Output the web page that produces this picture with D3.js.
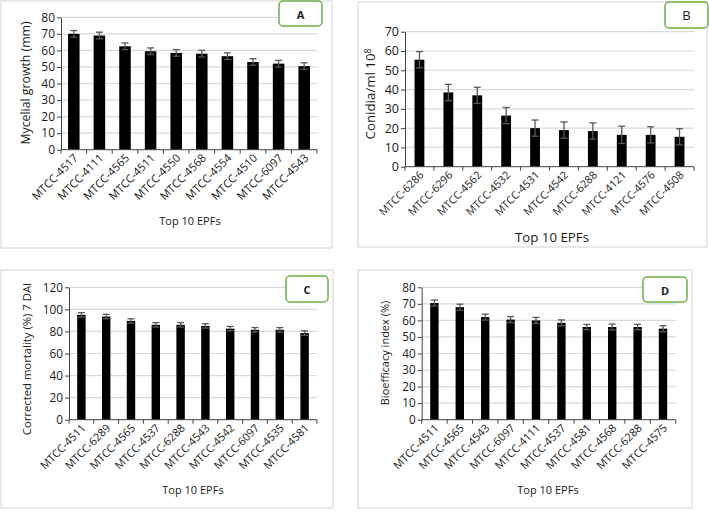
<!DOCTYPE html>
<html>
<head>
<meta charset="utf-8">
<script src="https://cdn.jsdelivr.net/npm/d3@7"></script>
<style>
  body { margin: 0; background: #fff; }
  svg text { font-family: "Open Sans", "Noto Sans", sans-serif; fill: #1a1a1a; }
</style>
</head>
<body>
<div id="chart"></div>
<script>
// panel data
var strainsA = ["MTCC-4517","MTCC-4111","MTCC-4565","MTCC-4511","MTCC-4550","MTCC-4568","MTCC-4554","MTCC-4510","MTCC-6097","MTCC-4543"];
var growthA = [70, 69, 62.5, 59.5, 58.5, 58, 56.5, 53, 52, 50.5];
var errA = [2, 2, 2, 2, 2, 2, 2, 2, 2, 2];

var strainsB = ["MTCC-6286","MTCC-6296","MTCC-4562","MTCC-4532","MTCC-4531","MTCC-4542","MTCC-6288","MTCC-4121","MTCC-4576","MTCC-4508"];
var conidiaB = [55.5, 38.5, 37, 26.5, 20, 19, 18.5, 16.5, 16.5, 15.5];
var errB = [4.2, 4.2, 4.2, 4.2, 4.2, 4.2, 4.2, 4.5, 4.2, 4.2];

var strainsC = ["MTCC-4511","MTCC-6289","MTCC-4565","MTCC-4537","MTCC-6288","MTCC-4543","MTCC-4542","MTCC-6097","MTCC-4535","MTCC-4581"];
var mortalityC = [95, 93.5, 89.5, 86, 86, 85, 82.5, 81.5, 81.5, 78.5];
var errC = [2, 2, 2, 2, 2, 2, 2, 2, 2, 2];

var strainsD = ["MTCC-4511","MTCC-4565","MTCC-4543","MTCC-6097","MTCC-4111","MTCC-4537","MTCC-4581","MTCC-4568","MTCC-6288","MTCC-4575"];
var bioD = [70.5, 68, 62, 60.5, 60, 58.5, 56, 56, 56, 55];
var errD = [1.8, 1.8, 1.8, 1.8, 1.8, 1.8, 1.6, 1.8, 1.6, 1.8];

var svg = d3.select("#chart").append("svg")
  .attr("width", 709)
  .attr("height", 518);

// draw one Excel-style panel
function panel(o) {
  var g = svg.append("g");

  g.append("rect")
    .attr("x", o.box[0]).attr("y", o.box[1])
    .attr("width", o.box[2]).attr("height", o.box[3])
    .attr("fill", "#fff").attr("stroke", "#d9d9d9").attr("stroke-width", 1.2);

  var x = d3.scaleBand().domain(o.cats).range([o.x0, o.x1]).paddingInner(o.pad).paddingOuter(o.pad / 2);
  var y = d3.scaleLinear().domain([0, o.max]).range([o.yb, o.yt]);
  var ticks = d3.range(0, o.max + 1, o.step);

  // gridlines
  g.selectAll(".grid").data(ticks.slice(1)).enter().append("line")
    .attr("x1", o.x0).attr("x2", o.x1)
    .attr("y1", d => y(d)).attr("y2", d => y(d))
    .attr("stroke", "#d9d9d9").attr("stroke-width", 1.2);

  g.selectAll(".bar").data(o.vals).enter().append("rect")
    .attr("x", (d, i) => x(o.cats[i]))
    .attr("width", x.bandwidth())
    .attr("y", d => y(d))
    .attr("height", d => y(0) - y(d))
    .attr("fill", "#000");

  // error bars
  var eb = g.selectAll(".err").data(o.vals).enter().append("g")
    .attr("stroke", "#595959").attr("stroke-width", 1.3);
  eb.append("line")
    .attr("x1", (d, i) => x(o.cats[i]) + x.bandwidth() / 2)
    .attr("x2", (d, i) => x(o.cats[i]) + x.bandwidth() / 2)
    .attr("y1", (d, i) => y(d - o.err[i])).attr("y2", (d, i) => y(d + o.err[i]));
  [1, -1].forEach(function(s) {
    eb.append("line")
      .attr("x1", (d, i) => x(o.cats[i]) + x.bandwidth() / 2 - 3.5)
      .attr("x2", (d, i) => x(o.cats[i]) + x.bandwidth() / 2 + 3.5)
      .attr("y1", (d, i) => y(d + s * o.err[i])).attr("y2", (d, i) => y(d + s * o.err[i]));
  });

  // y axis
  var ya = g.append("g").attr("transform", `translate(${o.x0},0)`)
    .call(d3.axisLeft(y).tickValues(ticks).tickSize(4).tickSizeOuter(0));
  ya.select(".domain").attr("stroke", "#404040");
  ya.selectAll(".tick line").attr("stroke", "#404040");
  ya.selectAll(".tick text").attr("font-size", o.tickFont).attr("fill", "#1a1a1a").attr("x", -6);

  // x axis with ticks at category boundaries
  var xa = g.append("g").attr("transform", `translate(0,${o.yb})`);
  xa.append("line").attr("x1", o.x0).attr("x2", o.x1).attr("stroke", "#404040");
  var step = (o.x1 - o.x0) / o.cats.length;
  xa.selectAll(".xt").data(d3.range(o.cats.length + 1)).enter().append("line")
    .attr("x1", i => o.x0 + i * step).attr("x2", i => o.x0 + i * step)
    .attr("y1", 0).attr("y2", 4).attr("stroke", "#404040");
  xa.selectAll(".xl").data(o.cats).enter().append("text")
    .attr("transform", d => `translate(${x(d) + x.bandwidth() / 2 + 5},${9}) rotate(-45)`)
    .attr("text-anchor", "end")
    .attr("font-size", o.catFont)
    .text(d => d);

  // axis titles
  var yt = g.append("text")
    .attr("transform", `translate(${o.ytx},${o.yty}) rotate(-90)`)
    .attr("text-anchor", "middle")
    .attr("font-size", o.titleFont)
    .text(o.ytitle);
  if (o.sup) {
    yt.append("tspan").attr("dy", "-0.45em").attr("font-size", o.titleFont * 0.65).text(o.sup);
  }
  g.append("text")
    .attr("x", o.xtx).attr("y", o.xty)
    .attr("text-anchor", "middle")
    .attr("font-size", o.xtFont || o.titleFont)
    .text("Top 10 EPFs");

  // letter box
  var lb = o.lbox;
  g.append("rect")
    .attr("x", lb[0]).attr("y", lb[1]).attr("width", lb[2]).attr("height", lb[3])
    .attr("rx", 4).attr("fill", "#fff").attr("stroke", "#70ad47").attr("stroke-width", 1.5);
  g.append("text")
    .attr("x", lb[0] + lb[2] / 2).attr("y", lb[1] + lb[3] / 2 + 5)
    .attr("text-anchor", "middle")
    .attr("font-size", o.letterFont)
    .attr("font-weight", o.letterBold ? "bold" : "normal")
    .attr("fill", "#000")
    .text(o.letter);
}

panel({
  box: [1, 1, 331, 247], cats: strainsA, vals: growthA, err: errA,
  x0: 61, x1: 317, yt: 17.3, yb: 149.7, max: 80, step: 10, pad: 0.55,
  tickFont: 12, catFont: 11.2, titleFont: 12.3, xtFont: 11,
  ytitle: "Mycelial growth (mm)", ytx: 30, yty: 83, xtx: 190, xty: 225,
  lbox: [279, 1, 43, 25], letter: "A", letterBold: true, letterFont: 11
});

panel({
  box: [358, 2, 349, 245], cats: strainsB, vals: conidiaB, err: errB,
  x0: 405, x1: 694, yt: 31.7, yb: 166.7, max: 70, step: 10, pad: 0.66,
  tickFont: 12.5, catFont: 10.8, titleFont: 13.3,
  ytitle: "Conidia/ml 10", sup: "8", ytx: 375, yty: 94, xtx: 552, xty: 242,
  lbox: [665, 2, 43, 26], letter: "B", letterBold: false, letterFont: 13
});

panel({
  box: [1, 270, 332, 238], cats: strainsC, vals: mortalityC, err: errC,
  x0: 69, x1: 317, yt: 287.3, yb: 419.7, max: 120, step: 20, pad: 0.66,
  tickFont: 11.8, catFont: 11, titleFont: 11.3, xtFont: 11,
  ytitle: "Corrected mortality (%) 7 DAI", ytx: 31, yty: 359, xtx: 193, xty: 494,
  lbox: [286, 276, 42, 26], letter: "C", letterBold: true, letterFont: 11
});

panel({
  box: [358, 270, 334, 238], cats: strainsD, vals: bioD, err: errD,
  x0: 421.7, x1: 675.7, yt: 287.3, yb: 419.7, max: 80, step: 10, pad: 0.67,
  tickFont: 11.7, catFont: 11, titleFont: 11, xtFont: 11,
  ytitle: "Bioefficacy index (%)", ytx: 389, yty: 353, xtx: 548, xty: 494,
  lbox: [643, 277, 44, 25], letter: "D", letterBold: true, letterFont: 11
});
</script>
</body>
</html>
